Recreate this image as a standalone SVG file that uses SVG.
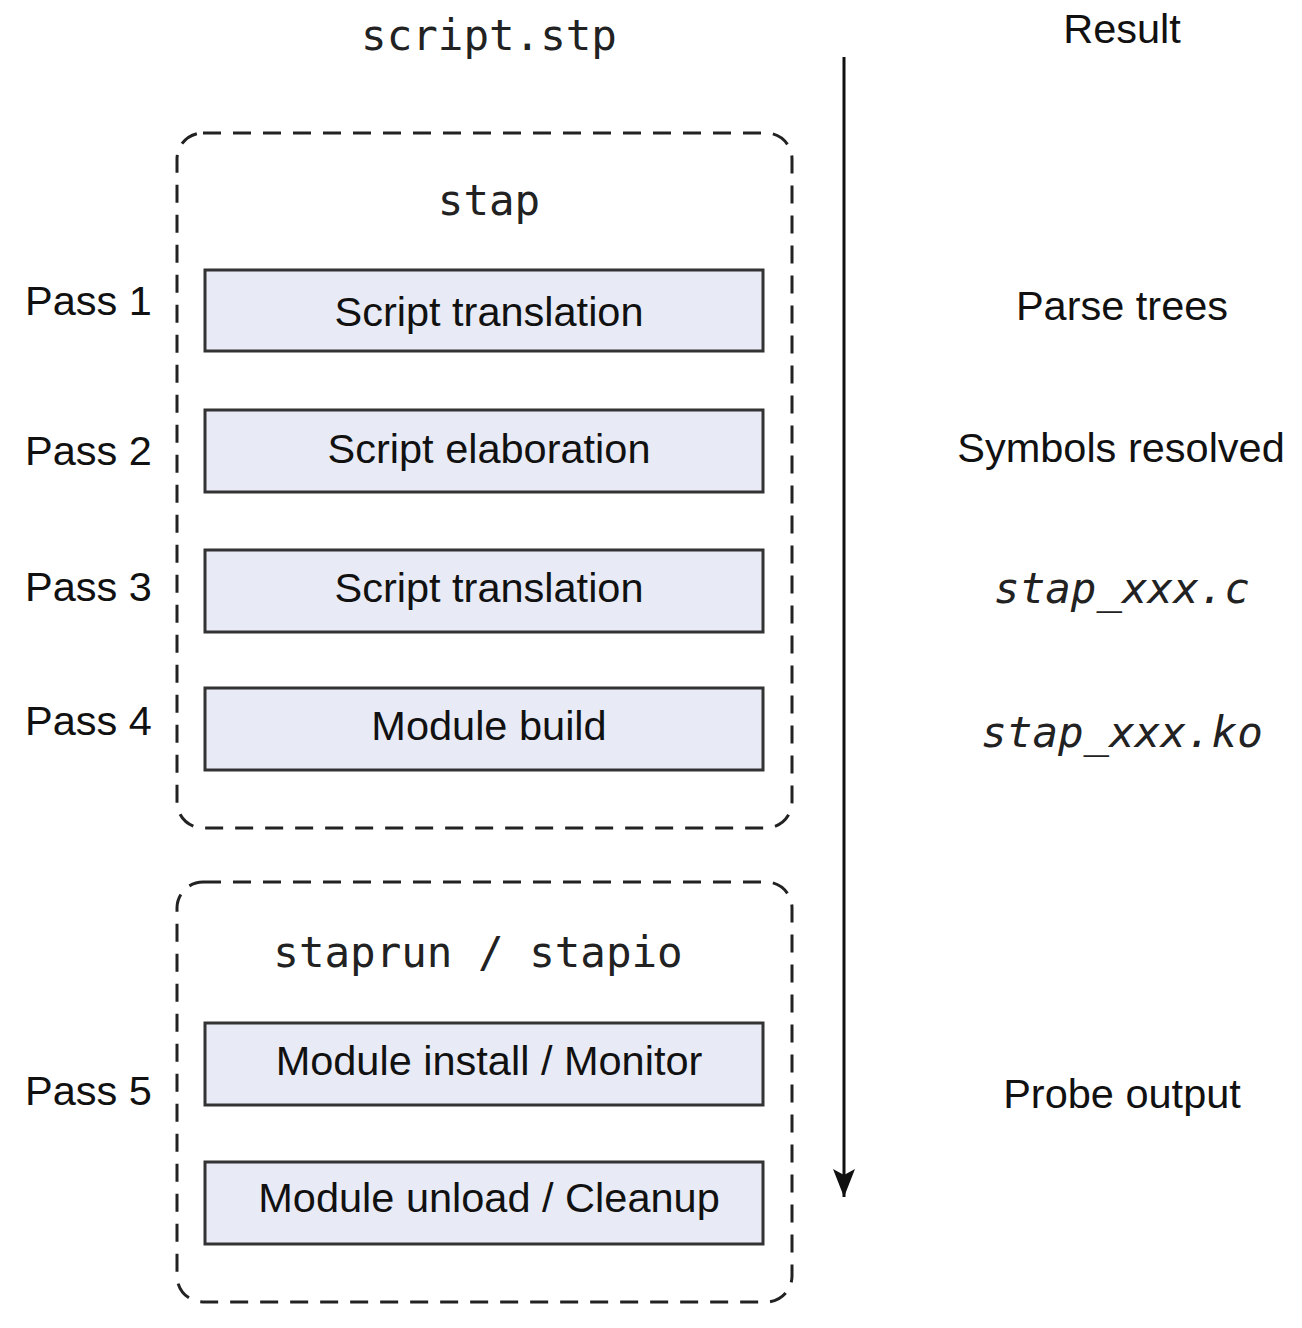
<svg xmlns="http://www.w3.org/2000/svg" width="1302" height="1328" viewBox="0 0 1302 1328">
<style>
.sans{font-family:"Liberation Sans",Arial,sans-serif;font-size:41.5px;fill:#111}
.mono{font-family:"DejaVu Sans Mono",monospace;font-size:42.5px;fill:#222}
.ital{font-style:italic}
.box{fill:#e8ebf6;stroke:#333;stroke-width:3}
.grp{fill:none;stroke:#222;stroke-width:3;stroke-dasharray:18 12}
.mid{text-anchor:middle}
</style>
<defs>
<marker id="ah" markerWidth="30" markerHeight="24" refX="28" refY="12" orient="auto" markerUnits="userSpaceOnUse" viewBox="0 0 30 24">
<path d="M0,1 L28,12 L0,23 L6,12 Z" fill="#111"/>
</marker>
</defs>
<rect width="1302" height="1328" fill="#fff"/>
<text class="mono mid" x="489" y="50">script.stp</text>
<text class="sans mid" x="1122" y="43">Result</text>
<g id="connectors">
<line x1="844" y1="57" x2="844" y2="1197" stroke="#111" stroke-width="3" marker-end="url(#ah)"/>
</g>
<g id="stap-group">
<rect class="grp" x="177" y="133" width="615" height="695" rx="26"/>
<text class="mono mid" x="489" y="215">stap</text>
</g>
<g id="staprun-group">
<rect class="grp" x="177" y="882" width="615" height="420" rx="26"/>
<text class="mono mid" x="478" y="967">staprun / stapio</text>
</g>
<g id="pass1">
<text class="sans" x="25" y="315">Pass 1</text>
<rect class="box" x="205" y="270" width="558" height="81"/>
<text class="sans mid" x="489" y="326">Script translation</text>
<text class="sans mid" x="1122" y="320">Parse trees</text>
</g>
<g id="pass2">
<text class="sans" x="25" y="465">Pass 2</text>
<rect class="box" x="205" y="410" width="558" height="82"/>
<text class="sans mid" x="489" y="463">Script elaboration</text>
<text class="sans mid" x="1121" y="462">Symbols resolved</text>
</g>
<g id="pass3">
<text class="sans" x="25" y="601">Pass 3</text>
<rect class="box" x="205" y="550" width="558" height="82"/>
<text class="sans mid" x="489" y="602">Script translation</text>
<text class="mono ital mid" x="1122" y="603">stap_xxx.c</text>
</g>
<g id="pass4">
<text class="sans" x="25" y="735">Pass 4</text>
<rect class="box" x="205" y="688" width="558" height="82"/>
<text class="sans mid" x="489" y="740">Module build</text>
<text class="mono ital mid" x="1122" y="747">stap_xxx.ko</text>
</g>
<g id="pass5">
<text class="sans" x="25" y="1105">Pass 5</text>
<rect class="box" x="205" y="1023" width="558" height="82"/>
<text class="sans mid" x="489" y="1075">Module install / Monitor</text>
<rect class="box" x="205" y="1162" width="558" height="82"/>
<text class="sans mid" x="489" y="1212">Module unload / Cleanup</text>
<text class="sans mid" x="1122" y="1108">Probe output</text>
</g>
</svg>
